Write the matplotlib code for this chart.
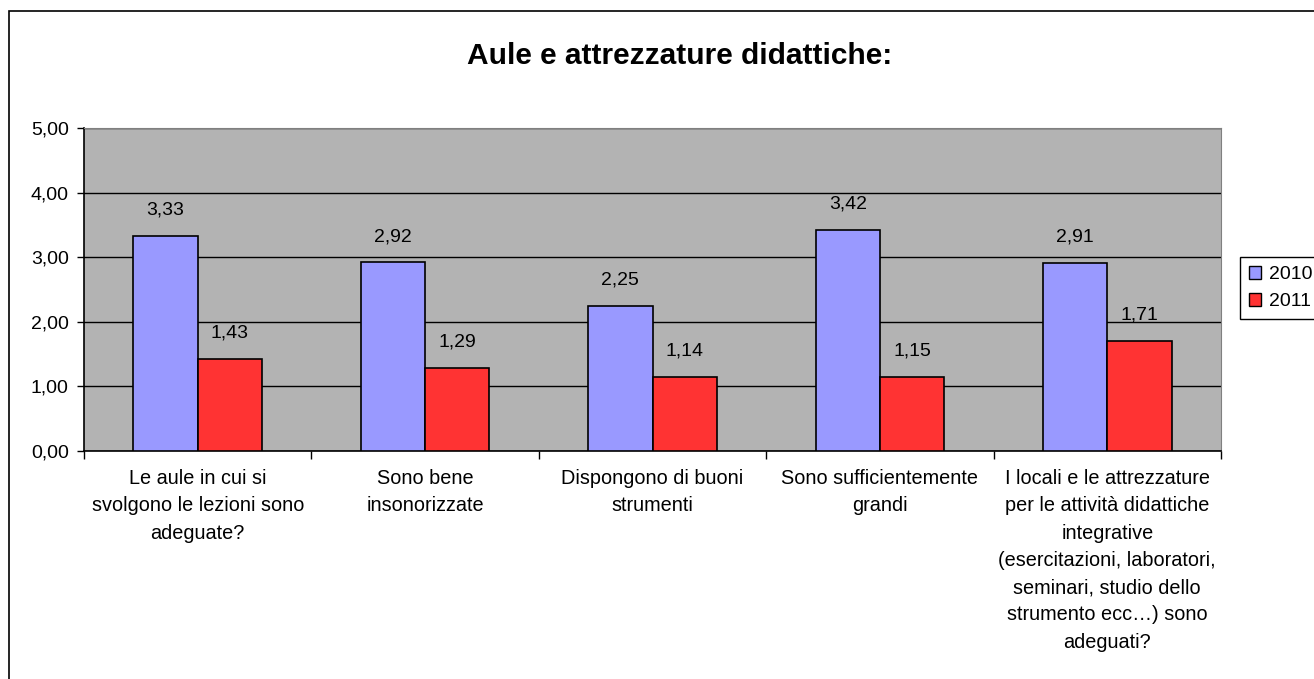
import matplotlib
matplotlib.use("Agg")
import numpy as np
import matplotlib.pyplot as plt
import matplotlib.patches as mpatches
from matplotlib.ticker import FixedLocator

plt.rcParams['font.family'] = ['Liberation Sans', 'DejaVu Sans']

# dati
categorie = [
    "Le aule in cui si\nsvolgono le lezioni sono\nadeguate?",
    "Sono bene\ninsonorizzate",
    "Dispongono di buoni\nstrumenti",
    "Sono sufficientemente\ngrandi",
    "I locali e le attrezzature\nper le attività didattiche\nintegrative\n(esercitazioni, laboratori,\nseminari, studio dello\nstrumento ecc…) sono\nadeguati?",
]
valori_2010 = [3.33, 2.92, 2.25, 3.42, 2.91]
valori_2011 = [1.43, 1.29, 1.14, 1.15, 1.71]
anni = ["2010", "2011"]
y_ticks = [0, 1, 2, 3, 4, 5]

colore_2010 = '#9999ff'
colore_2011 = '#ff3333'
sfondo = '#b3b3b3'

W, H = 1314, 679
fig = plt.figure(figsize=(W / 100, H / 100), dpi=100)
ax = fig.add_axes([84 / W, 1 - 451 / H, (1221 - 84) / W, (451 - 128) / H])
ax.set_facecolor(sfondo)

x = np.arange(len(categorie))
larg = 0.283

b1 = ax.bar(x - larg / 2, valori_2010, larg, color=colore_2010,
            edgecolor='black', linewidth=1.2, zorder=3, label=anni[0])
b2 = ax.bar(x + larg / 2, valori_2011, larg, color=colore_2011,
            edgecolor='black', linewidth=1.2, zorder=3, label=anni[1])

# etichette dei valori
for barre in (b1, b2):
    for r in barre:
        v = r.get_height()
        ax.annotate(f"{v:.2f}".replace('.', ','),
                    (r.get_x() + r.get_width() / 2, v),
                    xytext=(0, 12.5), textcoords='offset points',
                    ha='center', va='bottom', fontsize=14, zorder=4)

ax.set_xlim(-0.5, len(categorie) - 0.5)
ax.set_ylim(0, 5)
ax.set_yticks(y_ticks)
ax.set_yticklabels([f"{t:.2f}".replace('.', ',') for t in y_ticks], fontsize=14)
ax.yaxis.grid(True, color='black', linewidth=1, zorder=1)

ax.set_xticks(x)
ax.set_xticklabels(categorie, fontsize=14.3, linespacing=1.55, va='top')
ax.xaxis.set_minor_locator(FixedLocator(np.arange(-0.5, len(categorie), 1.0)))
ax.tick_params(axis='x', which='major', length=0, pad=13)
ax.tick_params(axis='x', which='minor', length=6, width=1, direction='out')
ax.tick_params(axis='y', length=5, width=1, direction='out', pad=6)

for lato in ('top', 'right'):
    ax.spines[lato].set_color('#808080')
for lato in ('left', 'bottom'):
    ax.spines[lato].set_color('black')
    ax.spines[lato].set_linewidth(1.2)

# titolo
fig.text(679.5 / W, 1 - 56 / H, "Aule e attrezzature didattiche:",
         ha='center', va='center', fontsize=21.5, fontweight='bold')

# legenda
handles = [mpatches.Patch(facecolor=colore_2010, edgecolor='black', label=anni[0]),
           mpatches.Patch(facecolor=colore_2011, edgecolor='black', label=anni[1])]
fig.legend(handles=handles, loc='center left',
           bbox_to_anchor=(1240 / W, 1 - 288 / H), fontsize=14,
           frameon=True, fancybox=False, edgecolor='black', framealpha=1,
           handlelength=0.65, handleheight=0.65, handletextpad=0.4,
           borderpad=0.45, labelspacing=0.5, borderaxespad=0)

# bordo dell'area del grafico
fig.patches.append(mpatches.Rectangle((9 / W, -0.1), 1.2, 1.1 - 11 / H,
                                      transform=fig.transFigure, fill=False,
                                      edgecolor='black', linewidth=1.2))

fig.savefig("out.png", dpi=100)
